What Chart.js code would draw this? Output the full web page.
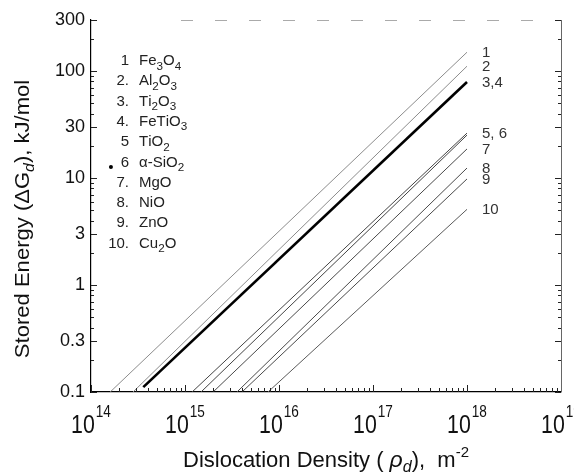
<!DOCTYPE html>
<html>
<head>
<meta charset="utf-8">
<script src="https://cdn.jsdelivr.net/npm/chart.js@4.4.1/dist/chart.umd.min.js"></script>
<style>
  html, body { margin: 0; padding: 0; background: #fff; }
  #wrap { width: 574px; height: 476px; }
</style>
</head>
<body>
<div id="wrap"><canvas id="ctx" width="574" height="476"></canvas></div>
<script>
// values: each line leaves the 0.1 floor and stops at rho = 1e18
const curveIds = ['1', '2', '3,4', '5', '6', '7', '8', '9', '10'];
const rhoStart = [1.6e14, 2.8e14, 3.6e14, 1.19e15, 1.48e15, 1.99e15, 3.57e15, 4.04e15, 7.64e15];
const energyStart = [0.1, 0.1, 0.111, 0.1, 0.1, 0.1, 0.1, 0.1, 0.1];
const rhoEnd = [1e18, 1e18, 1e18, 1e18, 1e18, 1e18, 1e18, 1e18, 1e18];
const energyEnd = [150, 111, 79, 26.3, 25.2, 18.7, 12.4, 9.8, 5.1];
const endLabels = ['1', '2', '3,4', '5, 6', '', '7', '8', '9', '10'];

const keyNumbers = ['1', '2.', '3.', '4.', '5', '6', '7.', '8.', '9.', '10.'];
const keyOxides = ['Fe_3O_4', 'Al_2O_3', 'Ti_2O_3', 'FeTiO_3', 'TiO_2', 'α-SiO_2', 'MgO', 'NiO', 'ZnO', 'Cu_2O'];

const xExponents = [14, 15, 16, 17, 18, 19];
const yTicks = [0.1, 0.3, 1, 3, 10, 30, 100, 300];

// stray ink dot next to key entry 6
const strayRho = [1.63e14];
const strayEnergy = [12.7];

const FONT = '"Liberation Sans", Arial, Helvetica, sans-serif';
const lineColors = ['#8c8c8c', '#8c8c8c', '#000', '#444', '#444', '#4a4a4a', '#4a4a4a', '#4a4a4a', '#5a5a5a'];
const lineWidths = [1, 1, 2.6, 1, 1, 1, 1, 1, 1];

function formulaParts(s, size) {
  const parts = [];
  for (let i = 0; i < s.length; i++) {
    if (s[i] === '_') {
      parts.push({ t: s[i + 1], size: size * 0.78, dy: size * 0.3 });
      i++;
    } else {
      parts.push({ t: s[i], size, dy: 0 });
    }
  }
  return parts;
}

function drawParts(ctx, parts, x, y, align, sx) {
  sx = sx || 1;
  let w = 0;
  parts.forEach((p) => {
    ctx.font = `${p.italic ? 'italic ' : ''}${p.size}px ${FONT}`;
    p.w = ctx.measureText(p.t).width * sx;
    w += p.w;
  });
  let cx = x;
  if (align === 'center') cx = x - w / 2;
  if (align === 'right') cx = x - w;
  ctx.textAlign = 'left';
  ctx.textBaseline = 'alphabetic';
  parts.forEach((p) => {
    ctx.font = `${p.italic ? 'italic ' : ''}${p.size}px ${FONT}`;
    ctx.save();
    ctx.translate(cx, y + (p.dy || 0));
    ctx.scale(sx, 1);
    ctx.fillText(p.t, 0, 0);
    ctx.restore();
    cx += p.w;
  });
  return w;
}

const decorations = {
  id: 'decorations',
  afterDatasetsDraw(chart) {
    const { ctx, chartArea: a, scales } = chart;
    const xs = scales.x;
    const ys = scales.y;
    ctx.save();

    // right frame and faint top edge
    ctx.strokeStyle = '#666';
    ctx.lineWidth = 1;
    ctx.beginPath();
    ctx.moveTo(a.right + 0.5, a.top);
    ctx.lineTo(a.right + 0.5, a.bottom);
    ctx.stroke();
    ctx.strokeStyle = '#aaa';
    ctx.setLineDash([12, 22]);
    ctx.beginPath();
    ctx.moveTo(a.left + 90, a.top + 0.5);
    ctx.lineTo(a.right, a.top + 0.5);
    ctx.stroke();
    ctx.setLineDash([]);

    // inward ticks, y
    ctx.strokeStyle = '#222';
    for (let d = -1; d <= 2; d++) {
      for (let m = 1; m <= 9; m++) {
        const v = m * Math.pow(10, d);
        if (v < 0.1 || v > 300) continue;
        const py = Math.round(ys.getPixelForValue(v)) + 0.5;
        const len = yTicks.some((t) => Math.abs(t - v) < 1e-9) ? 6 : 3;
        ctx.beginPath();
        ctx.moveTo(a.left, py);
        ctx.lineTo(a.left + len, py);
        ctx.moveTo(a.right, py);
        ctx.lineTo(a.right - len, py);
        ctx.stroke();
      }
    }
    // inward ticks, x
    for (let e = 14; e <= 18; e++) {
      for (let m = 1; m <= 9; m++) {
        const px = Math.round(xs.getPixelForValue(m * Math.pow(10, e))) + 0.5;
        const len = m === 1 ? 7 : 4;
        ctx.beginPath();
        ctx.moveTo(px, a.bottom);
        ctx.lineTo(px, a.bottom - len);
        ctx.stroke();
      }
    }

    ctx.fillStyle = '#111';
    // x tick labels 10^n
    xExponents.forEach((e) => {
      const px = xs.getPixelForValue(Math.pow(10, e));
      ctx.font = `26px ${FONT}`;
      const wb = ctx.measureText('10').width * 0.82;
      ctx.font = `16px ${FONT}`;
      const ws = ctx.measureText(String(e)).width * 0.85;
      const x0 = px - (wb + ws + 1) / 2;
      drawParts(ctx, [{ t: '10', size: 26 }], x0, 433, 'left', 0.82);
      drawParts(ctx, [{ t: String(e), size: 16 }], x0 + wb + 1, 417, 'left', 0.85);
    });

    // axis titles
    drawParts(ctx, [
      { t: 'Dislocation Density ( ', size: 22 },
      { t: 'ρ', size: 23, italic: true },
      { t: 'd', size: 16, italic: true, dy: 5 },
      { t: '),  m', size: 22 },
      { t: '-2', size: 15, dy: -10 },
    ], 326, 467, 'center');

    ctx.save();
    ctx.translate(29, 219);
    ctx.rotate(-Math.PI / 2);
    drawParts(ctx, [
      { t: 'Stored Energy (', size: 21 },
      { t: 'ΔG', size: 21 },
      { t: 'd', size: 15, italic: true, dy: 5 },
      { t: '), kJ/mol', size: 21 },
    ], 0, 0, 'center', 1.05);
    ctx.restore();

    // key
    ctx.fillStyle = '#222';
    keyNumbers.forEach((n, i) => {
      const by = 65 + i * 20.3;
      drawParts(ctx, [{ t: n, size: 15 }], 129, by, 'right');
      drawParts(ctx, formulaParts(keyOxides[i], 15), 139, by, 'left');
    });

    // curve numbers at the line ends
    ctx.fillStyle = '#333';
    endLabels.forEach((lab, i) => {
      if (!lab) return;
      const py = ys.getPixelForValue(energyEnd[i]);
      const px = xs.getPixelForValue(rhoEnd[i]);
      drawParts(ctx, [{ t: lab, size: 15 }], px + 15, py + 5, 'left');
    });

    ctx.restore();
  },
};

const datasets = curveIds.map((id, i) => ({
  label: id,
  data: [{ x: rhoStart[i], y: energyStart[i] }, { x: rhoEnd[i], y: energyEnd[i] }],
  borderColor: lineColors[i],
  borderWidth: lineWidths[i],
  pointRadius: 0,
  tension: 0,
  fill: false,
}));
datasets.push({
  type: 'scatter',
  label: 'dot',
  data: strayRho.map((x, i) => ({ x, y: strayEnergy[i] })),
  pointRadius: 2,
  backgroundColor: '#000',
  borderWidth: 0,
});

const chart = new Chart(document.getElementById('ctx').getContext('2d'), {
  type: 'line',
  data: { datasets },
  options: {
    responsive: false,
    animation: false,
    events: [],
    layout: { padding: { left: 0, top: 20, right: 13, bottom: 0 } },
    plugins: { legend: { display: false }, tooltip: { enabled: false } },
    scales: {
      x: {
        type: 'logarithmic',
        min: 1e14,
        max: 1e19,
        grid: { display: false, drawTicks: false },
        border: { display: true, color: '#000', width: 1.2 },
        ticks: { display: false },
        afterBuildTicks: (s) => { s.ticks = xExponents.map((e) => ({ value: Math.pow(10, e) })); },
        afterFit: (s) => { s.height = 84; },
      },
      y: {
        type: 'logarithmic',
        min: 0.1,
        max: 300,
        grid: { display: false, drawTicks: false },
        border: { display: true, color: '#000', width: 1.2 },
        ticks: {
          autoSkip: false,
          padding: 6,
          color: '#111',
          font: { family: FONT, size: 18 },
          callback: (v) => String(v),
        },
        afterBuildTicks: (s) => { s.ticks = yTicks.map((v) => ({ value: v })); },
        afterFit: (s) => { s.width = 91; },
      },
    },
  },
  plugins: [decorations],
});
</script>
</body>
</html>
